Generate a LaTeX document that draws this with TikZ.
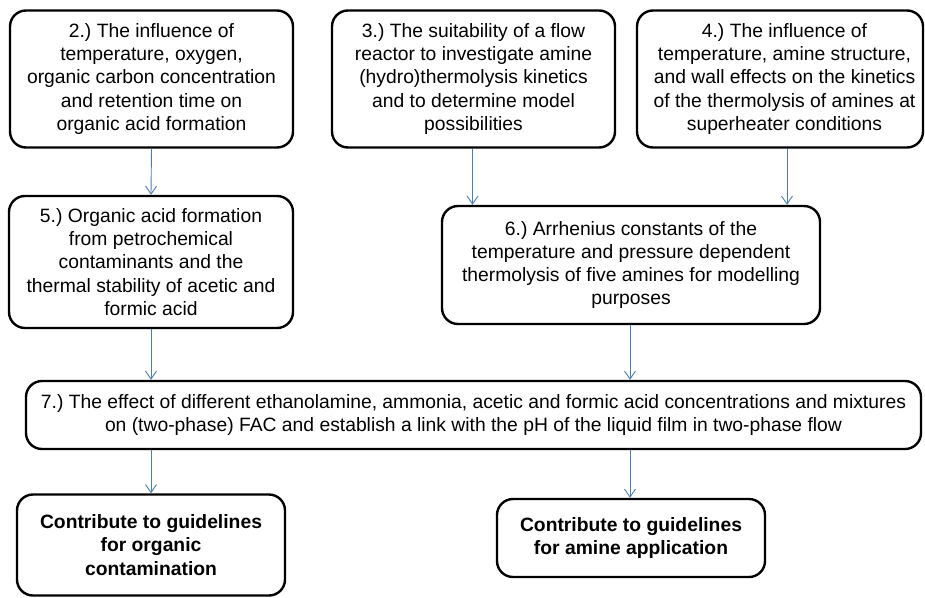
\documentclass[tikz,border=0pt]{standalone}
\usepackage{fontspec}
\setmainfont{Liberation Sans}
\usetikzlibrary{arrows.meta,calc}
\definecolor{arrowblue}{HTML}{4A7EBB}
\frenchspacing
\tikzset{
  box/.style={draw=black, line width=2.4pt, rounded corners=16pt, align=center,
    inner sep=0pt, font=\fontsize{19.3}{23.3}\selectfont, fill=white},
  conn/.style={draw=arrowblue, line width=0.9pt, -{Straight Barb[length=8pt,width=11pt]}}
}
\begin{document}
\begin{tikzpicture}[x=1pt,y=-1pt]
\useasboundingbox[fill=white] (0,0) rectangle (925,597);
\node[box, minimum width=283pt, minimum height=137pt] (b2) at (151.5,79)
  {2.) The influence of\\temperature, oxygen,\\organic carbon concentration\\and retention time on\\organic acid formation};
\node[box, minimum width=283pt, minimum height=137pt] (b3) at (473.5,79)
  {3.) The suitability of a flow\\reactor to investigate amine\\(hydro)thermolysis kinetics\\and to determine model\\possibilities};
\node[box, minimum width=286pt, minimum height=137pt] (b4) at (780,79)
  {\hspace*{9pt}4.) The influence of\\\hspace*{9pt}temperature, amine structure,\\\hspace*{9pt}and wall effects on the kinetics\\\hspace*{9pt}of the thermolysis of amines at\\\hspace*{9pt}superheater conditions};
\node[box, minimum width=284pt, minimum height=132pt] (b5) at (151,262)
  {5.) Organic acid formation\\from petrochemical\\contaminants and the\\thermal stability of acetic and\\formic acid};
\node[box, minimum width=378pt, minimum height=118pt] (b6) at (631,265)
  {6.) Arrhenius constants of the\\temperature and pressure dependent\\thermolysis of five amines for modelling\\purposes};
\node[box, minimum width=895pt, minimum height=68pt] (b7) at (473.5,415)
  {7.) The effect of different ethanolamine, ammonia, acetic and formic acid concentrations and mixtures\\on (two-phase) FAC and establish a link with the pH of the liquid film in two-phase flow};
\node[box, minimum width=268pt, minimum height=101pt, font=\fontsize{19.3}{23.3}\selectfont\bfseries] (g1) at (151,545)
  {Contribute to guidelines\\for organic\\contamination};
\node[box, minimum width=268pt, minimum height=78pt, font=\fontsize{19.3}{23.3}\selectfont\bfseries] (g2) at (631,538)
  {Contribute to guidelines\\for amine application};
\path[conn] (b2.south) -- (b5.north);
\path[conn] ($(b3.south)+(-1,0)$) -- ($(b6.north)!(b3.south)!(b6.north west)+(-1,0)$);
\coordinate (a4) at ($(b4.south)+(7,0)$);
\path[conn] (a4) -- (a4 |- b6.north);
\path[conn] (b5.south) -- (b5.south |- b7.north);
\coordinate (a6) at ($(b6.south)+(-1,0)$);
\path[conn] (a6) -- (a6 |- b7.north);
\path[conn] (b7.south -| g1.north) -- (g1.north);
\path[conn] (b7.south -| a6) -- (a6 |- g2.north);
\end{tikzpicture}
\end{document}
